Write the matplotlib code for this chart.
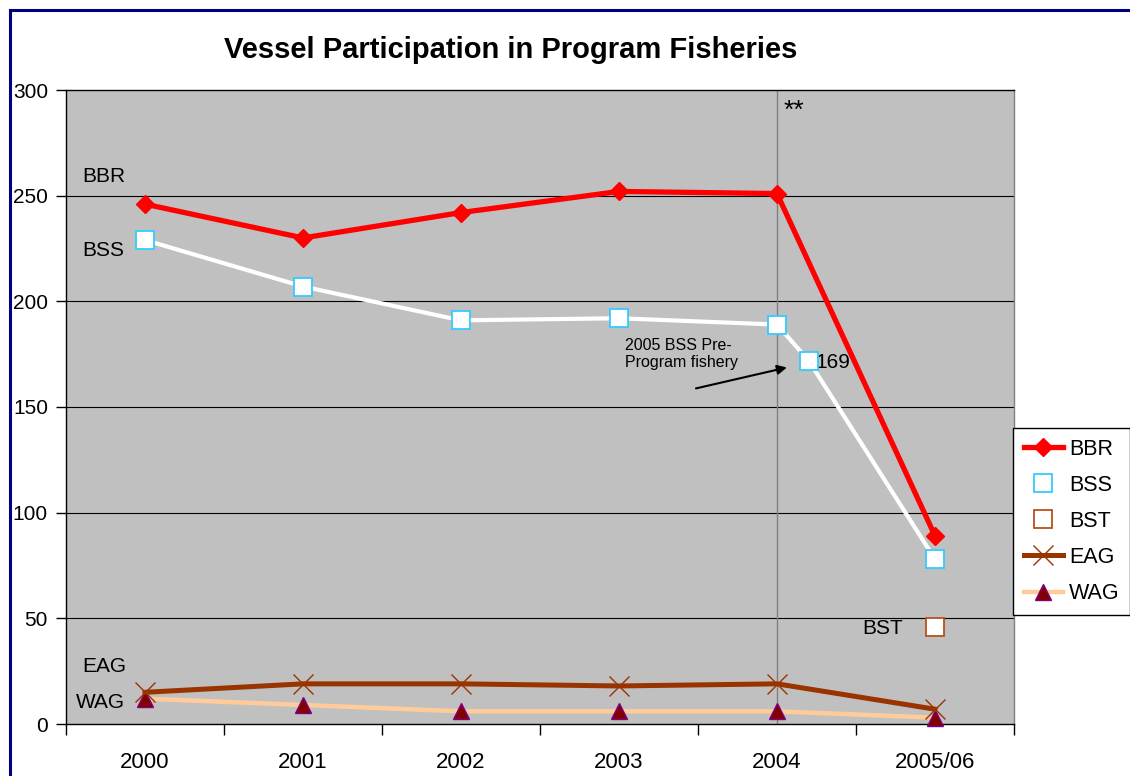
import matplotlib

matplotlib.use('Agg')
import matplotlib.pyplot as plt
from matplotlib.lines import Line2D

plt.rcParams['font.family'] = ['Liberation Sans', 'DejaVu Sans']

# --- data ---
years = ['2000', '2001', '2002', '2003', '2004', '2005/06']
bbr = [246, 230, 242, 252, 251, 89]
# BSS has an extra 2005 pre-program point between 2004 and 2005/06
bss_pos = [0, 1, 2, 3, 4, 4.2, 5]
bss = [229, 207, 191, 192, 189, 172, 78]
bst_pos = [5]
bst = [46]
eag = [15, 19, 19, 18, 19, 7]
wag = [12, 9, 6, 6, 6, 3]

W, H = 1130, 776
fig = plt.figure(figsize=(W / 100, H / 100), dpi=100)
ax = fig.add_axes([66 / W, 1 - 724 / H, (1014 - 66) / W, (724 - 90) / H])
ax.set_facecolor('#C0C0C0')

x = [i + 0.5 for i in range(len(years))]
bx = [p + 0.5 for p in bss_pos]
tx = [p + 0.5 for p in bst_pos]

ax.plot(x, wag, color='#FFCC99', lw=3.2, marker='^', ms=11,
        mfc='#800000', mec='#800080', mew=1, label='WAG', zorder=3, clip_on=False)
ax.plot(x, eag, color='#993300', lw=3.6, marker='x', ms=14,
        mec='#993300', mew=1, label='EAG', zorder=3, clip_on=False)
ax.plot(x, bbr, color='#FF0000', lw=3.8, marker='D', ms=9.5,
        mfc='#FF0000', mec='#FF0000', label='BBR', zorder=4)
ax.plot(bx, bss, color='white', lw=3, zorder=4)
ax.plot(bx, bss, ls='none', marker='s', ms=13, mfc='white', mec='#33CCFF',
        mew=1.3, label='BSS', zorder=5)
ax.plot(tx, bst, ls='none', marker='s', ms=13, mfc='white', mec='#B8501E',
        mew=1.3, label='BST', zorder=5)

ax.axvline(4.5, color='#808080', lw=1, zorder=2)

ax.set_xlim(0, 6)
ax.set_ylim(0, 300)
ax.set_yticks(range(0, 301, 50))
ax.tick_params(axis='y', labelsize=15, length=7, width=1, direction='out', pad=6)
ax.set_xticks(range(0, 7))
ax.set_xticklabels([])
ax.set_xticks(x, minor=True)
ax.set_xticklabels(years, minor=True, fontsize=16)
ax.tick_params(axis='x', which='major', length=8, width=1, direction='out')
ax.tick_params(axis='x', which='minor', length=0, pad=20)
for y in range(50, 300, 50):
    ax.axhline(y, color='black', lw=0.8, zorder=1)
for s in ax.spines.values():
    s.set_color('black')
    s.set_linewidth(1)
ax.spines['right'].set_color('#808080')

# series labels written inside the plot
ax.text(0.1, 259, 'BBR', fontsize=15, va='center')
ax.text(0.1, 224, 'BSS', fontsize=15, va='center')
ax.text(0.1, 27, 'EAG', fontsize=15, va='center')
ax.text(0.06, 10, 'WAG', fontsize=15, va='center')
ax.text(5.04, 45, 'BST', fontsize=15, va='center')
ax.text(4.74, 171, '169', fontsize=15, va='center')
ax.text(4.54, 290, '**', fontsize=19, va='center')
ax.text(3.54, 175, '2005 BSS Pre-\nProgram fishery', fontsize=11.5,
        va='center', linespacing=1.15)
ax.annotate('', xy=(4.58, 169), xytext=(3.97, 158.5),
            arrowprops=dict(arrowstyle='-|>', color='black', lw=1.5,
                            mutation_scale=14))

fig.text(511 / W, 1 - 50 / H, 'Vessel Participation in Program Fisheries',
         fontsize=21, fontweight='bold', ha='center', va='center')

handles, labels = ax.get_legend_handles_labels()
order = ['BBR', 'BSS', 'BST', 'EAG', 'WAG']
hmap = dict(zip(labels, handles))
leg = fig.legend([hmap[k] for k in order], order, loc='upper left',
                 bbox_to_anchor=(1013 / W, 1 - 428 / H), fontsize=15.5,
                 frameon=True, fancybox=False, framealpha=1, edgecolor='black',
                 borderpad=0.5, labelspacing=0.7, handlelength=1.8,
                 handletextpad=0.3, borderaxespad=0)
leg.get_frame().set_linewidth(1)

# navy frame around the chart area
fig.add_artist(Line2D([9.5 / W, 9.5 / W], [0, 1 - 9.5 / H], color='#000080', lw=2.2))
fig.add_artist(Line2D([9.5 / W, 1], [1 - 9.5 / H, 1 - 9.5 / H], color='#000080', lw=2.2))

fig.savefig('out.png', dpi=100)
